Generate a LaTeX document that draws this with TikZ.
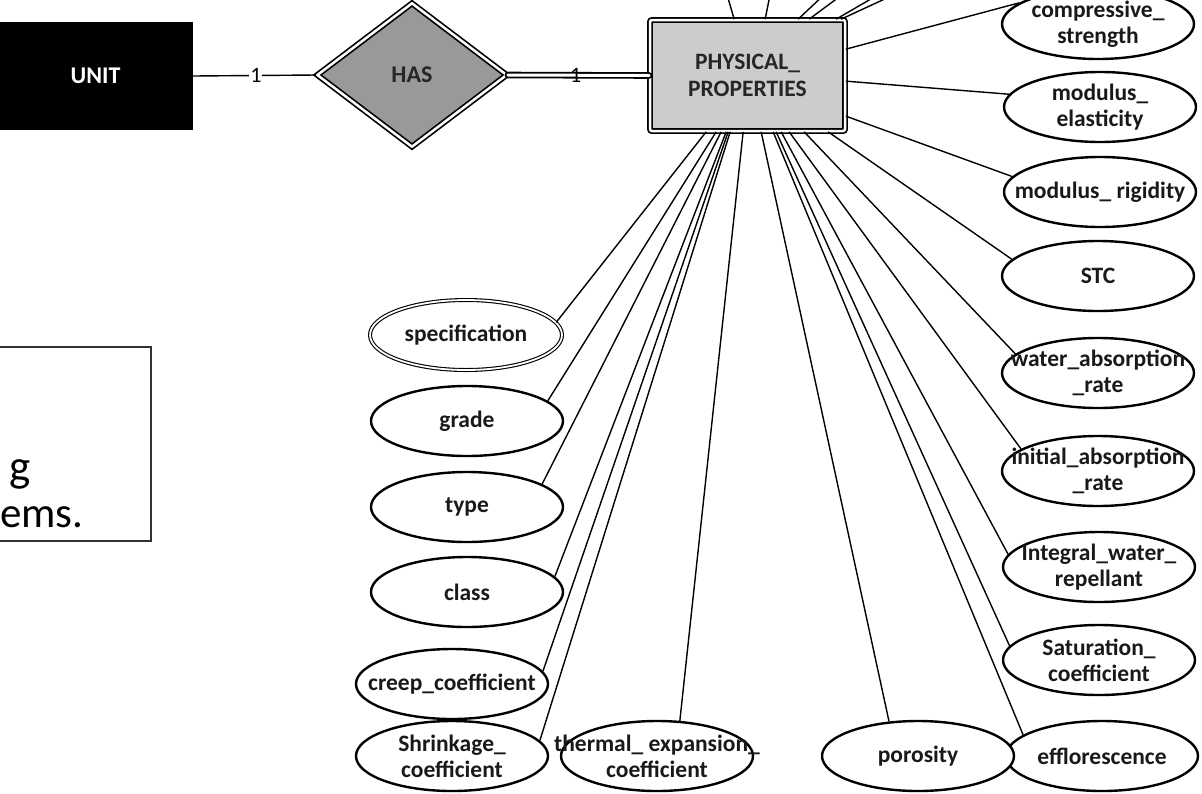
\documentclass[tikz,border=0pt]{standalone}
\usepackage{fontspec}
\setmainfont{Carlito}
\usetikzlibrary{shapes.geometric}
\begin{document}
\begin{tikzpicture}[x=1pt,y=-1pt,
  attr/.style={ellipse,draw=black,line width=2.4pt,fill=white,minimum width=192pt,minimum height=70pt,inner sep=0pt},
  mvattr/.style={attr,line width=1.1pt,double=white,double distance=1.8pt},
  lbl/.style={inner sep=0pt,align=center,font=\fontsize{23.5}{26}\selectfont\bfseries,text=black!90},
  conn/.style={line width=1.4pt,black},
  card/.style={fill=white,inner sep=1pt,font=\fontsize{22}{24}\selectfont}
]
\useasboundingbox (0,0) rectangle (1202,793);
\clip (0,0) rectangle (1202,793);

% left text box (cropped)
\draw[line width=1.2pt,black!80] (-5,347) rectangle (151,541);
\node[anchor=base west,inner sep=0pt,font=\fontsize{45}{50}\selectfont] (txa) at (9,481) {g};
\node[anchor=base west,inner sep=0pt,font=\fontsize{43}{50}\selectfont] (txb) at (0,527) {ems.};

% main entities
\node[fill=black,minimum width=195pt,minimum height=108pt,inner sep=0pt,text=white,font=\fontsize{24}{26}\selectfont\bfseries] (unit) at (95.5,76) {UNIT};
\node[diamond,draw=black,line width=1.7pt,double=white,double distance=2.5pt,fill=black!40,minimum width=190pt,minimum height=144pt,inner sep=0pt,font=\fontsize{24}{26}\selectfont\bfseries,text=black!85] (has) at (412,75) {HAS};
\node[rectangle,rounded corners=2pt,draw=black,line width=1.7pt,double=white,double distance=2.5pt,fill=black!20,minimum width=195pt,minimum height=111pt,inner sep=0pt,align=center,font=\fontsize{23.5}{27}\selectfont\bfseries,text=black!85] (pp) at (747.5,75.5) {PHYSICAL\_\\PROPERTIES};

\draw[conn] (unit.east) -- node[card,pos=0.51] {1} (has.west);
\draw[line width=1.8pt,double=white,double distance=3pt,line cap=round] (has.east) -- node[card,pos=0.48,fill=none] {1} (pp.west);

% attributes right column
\node[attr] (cs) at (1098,24) {};
\node[lbl] (cst) at (cs) {compressive\_\\strength};
\node[attr] (me) at (1100,107) {};
\node[lbl] (met) at (me) {modulus\_\\elasticity};
\node[attr] (mr) at (1100,192) {};
\node[lbl] (mrt) at (mr) {modulus\_ rigidity};
\node[attr] (stc) at (1098,276) {};
\node[lbl] (stct) at (stc) {STC};
\node[attr] (war) at (1098,373) {};
\node[lbl] (wart) at (war) {water\_absorption\\\_rate};
\node[attr] (iar) at (1098,471) {};
\node[lbl] (iart) at (iar) {initial\_absorption\\\_rate};
\node[attr] (iwr) at (1099,567) {};
\node[lbl] (iwrt) at (iwr) {Integral\_water\_\\repellant};
\node[attr] (sat) at (1099,660) {};
\node[lbl] (satt) at (sat) {Saturation\_\\coefficient};
\node[attr] (eff) at (1102,756) {};
\node[lbl] (efft) at (eff) {efflorescence};
% bottom row
\node[attr] (por) at (918,756) {};
\node[lbl] (port) at (por) {porosity};
\node[attr] (thm) at (657,756) {};
\node[lbl] (thmt) at (thm) {thermal\_ expansion\_\\coefficient};
\node[attr] (shr) at (452,756) {};
\node[lbl] (shrt) at (shr) {Shrinkage\_\\coefficient};
% left column
\node[attr] (crp) at (452,684) {};
\node[lbl] (crpt) at (crp) {creep\_coefficient};
\node[attr] (cls) at (467,592) {};
\node[lbl] (clst) at (cls) {class};
\node[attr] (typ) at (467,507) {};
\node[lbl] (typt) at (typ) {type};
\node[attr] (grd) at (467,421) {};
\node[lbl] (grdt) at (grd) {grade};
\node[mvattr] (spec) at (466,335) {};
\node[lbl] (spect) at (spec) {specification};

% connectors from bottom edge
\draw[conn] ([xshift=57pt]pp.south west) -- (spec.8);
\draw[conn] ([xshift=67pt]pp.south west) -- (grd.14);
\draw[conn] ([xshift=72pt]pp.south west) -- (typ.17);
\draw[conn] ([xshift=77pt]pp.south west) -- (cls.10);
\draw[conn] ([xshift=79pt]pp.south west) -- (crp.8);
\draw[conn] ([xshift=81pt]pp.south west) -- (shr.10);
\draw[conn] ([xshift=94pt]pp.south west) -- (thm.57);
\draw[conn] ([xshift=112pt]pp.south west) -- (por.130);
\draw[conn] ([xshift=124pt]pp.south west) -- (eff.165);
\draw[conn] ([xshift=127pt]pp.south west) -- (sat.171);
\draw[conn] ([xshift=132pt]pp.south west) -- (iwr.172);
\draw[conn] ([xshift=140pt]pp.south west) -- (iar.164);
\draw[conn] ([xshift=155pt]pp.south west) -- (war.167);
\draw[conn] ([xshift=179pt]pp.south west) -- (stc.169);
% connectors from right edge
\draw[conn] ([yshift=-97pt]pp.north east) -- (mr.170);
\draw[conn] ([yshift=-62pt]pp.north east) -- (me.172);
\draw[conn] ([yshift=-30pt]pp.north east) -- (cs.165);

% connectors leaving the top edge (targets outside the picture)
\coordinate (t1) at (717,-40);
\coordinate (t2) at (777,-40);
\coordinate (t3) at (861,-40);
\coordinate (t4) at (889,-40);
\coordinate (t5) at (938,-40);
\coordinate (t6) at (969,-40);
\draw[conn] ([xshift=85pt]pp.north west) -- (t1);
\draw[conn] ([xshift=116pt]pp.north west) -- (t2);
\draw[conn] ([xshift=149pt]pp.north west) -- (t3);
\draw[conn] ([xshift=160pt]pp.north west) -- (t4);
\draw[conn] ([xshift=187pt]pp.north west) -- (t5);
\draw[conn] ([xshift=192pt]pp.north west) -- (t6);
\end{tikzpicture}
\end{document}
